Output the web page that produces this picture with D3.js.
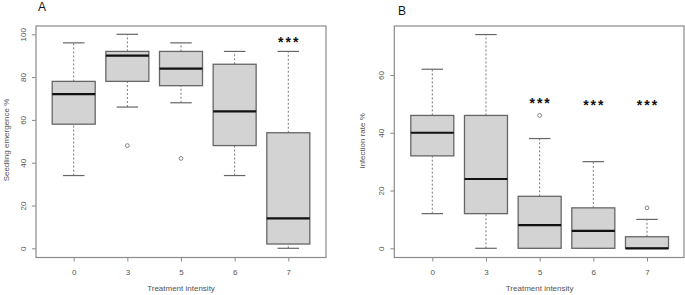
<!DOCTYPE html>
<html>
<head>
<meta charset="utf-8">
<script src="https://cdn.jsdelivr.net/npm/d3@7"></script>
<style>
  body { margin: 0; background: #fff; }
  svg { display: block; font-family: "Liberation Sans", Arial, sans-serif; }
</style>
</head>
<body>
<div id="chart"></div>
<script>
const categories = ["0", "3", "5", "6", "7"];

// [low whisker, Q1, median, Q3, high whisker]
const emergenceStats = [
  [34, 58, 72, 78, 96],
  [66, 78, 90, 92, 100],
  [68, 76, 84, 92, 96],
  [34, 48, 64, 86, 92],
  [0, 2, 14, 54, 92]
];
const emergenceOutliers = [[], [48], [42], [], []];
const emergenceStars = [false, false, false, false, true];
const emergenceStarValue = [0, 0, 0, 0, 97.7];
const emergenceTicks = [0, 20, 40, 60, 80, 100];

const infectionStats = [
  [12, 32, 40, 46, 62],
  [0, 12, 24, 46, 74],
  [0, 0, 8, 18, 38],
  [0, 0, 6, 14, 30],
  [0, 0, 0, 4, 10]
];
const infectionOutliers = [[], [], [46], [], [14]];
const infectionStars = [false, false, true, true, true];
const infectionStarValue = [0, 0, 51.3, 50.7, 50.5];
const infectionTicks = [0, 20, 40, 60];

const W = 685, H = 295;
const svg = d3.select("#chart").append("svg").attr("width", W).attr("height", H);

const drawPanel = (opt) => {
  const g = svg.append("g");
  const x = d3.scalePoint().domain(categories).range([opt.x0, opt.x1]);
  const y = d3.scaleLinear().domain(opt.domain).range([opt.yBottom, opt.yTop]);
  const boxW = 43, capW = 21.5;
  const frameColor = "#8a8a8a";

  // frame
  g.append("rect")
    .attr("x", opt.left).attr("y", opt.top)
    .attr("width", opt.right - opt.left).attr("height", opt.bottom - opt.top)
    .attr("fill", "none").attr("stroke", frameColor).attr("stroke-width", 1.2);

  // y axis
  const ya = g.append("g").attr("transform", `translate(${opt.left},0)`)
    .call(d3.axisLeft(y).tickValues(opt.ticks).tickSize(4).tickSizeOuter(0));
  ya.select(".domain").remove();
  ya.selectAll(".tick line").attr("stroke", frameColor);
  ya.selectAll(".tick text")
    .attr("fill", "#555").attr("font-size", 8)
    .attr("text-anchor", "middle")
    .attr("transform", "rotate(-90)")
    .attr("x", 0).attr("y", -13).attr("dy", "0.32em");

  // x axis
  const xa = g.append("g").attr("transform", `translate(0,${opt.bottom})`)
    .call(d3.axisBottom(x).tickSize(4).tickSizeOuter(0).tickPadding(8));
  xa.select(".domain").remove();
  xa.selectAll(".tick line").attr("stroke", frameColor);
  xa.selectAll(".tick text").attr("fill", "#555").attr("font-size", 8);

  // boxes
  const boxes = g.selectAll(".box").data(opt.stats).join("g")
    .attr("transform", (d, i) => `translate(${x(categories[i])},0)`);

  boxes.append("line")
    .attr("y1", d => y(d[0])).attr("y2", d => y(d[1]))
    .attr("stroke", "#777").attr("stroke-dasharray", "2,2");
  boxes.append("line")
    .attr("y1", d => y(d[3])).attr("y2", d => y(d[4]))
    .attr("stroke", "#777").attr("stroke-dasharray", "2,2");
  boxes.append("line")
    .attr("x1", -capW / 2).attr("x2", capW / 2)
    .attr("y1", d => y(d[0])).attr("y2", d => y(d[0]))
    .attr("stroke", "#666").attr("stroke-width", 1.2);
  boxes.append("line")
    .attr("x1", -capW / 2).attr("x2", capW / 2)
    .attr("y1", d => y(d[4])).attr("y2", d => y(d[4]))
    .attr("stroke", "#666").attr("stroke-width", 1.2);
  boxes.append("rect")
    .attr("x", -boxW / 2).attr("width", boxW)
    .attr("y", d => y(d[3])).attr("height", d => Math.max(0, y(d[1]) - y(d[3])))
    .attr("fill", "#d3d3d3").attr("stroke", "#666").attr("stroke-width", 1.3);
  boxes.append("line")
    .attr("x1", -boxW / 2).attr("x2", boxW / 2)
    .attr("y1", d => y(d[2])).attr("y2", d => y(d[2]))
    .attr("stroke", "#111").attr("stroke-width", 2.2);

  // outliers
  opt.outliers.forEach((arr, i) => {
    g.selectAll(null).data(arr).join("circle")
      .attr("cx", x(categories[i])).attr("cy", d => y(d))
      .attr("r", 1.9).attr("fill", "none").attr("stroke", "#666").attr("stroke-width", 0.8);
  });

  // significance stars (value = vertical centre of the asterisks)
  opt.stars.forEach((s, i) => {
    if (!s) return;
    g.append("text")
      .attr("x", x(categories[i]) + 1).attr("y", y(opt.starValue[i]))
      .attr("text-anchor", "middle").attr("dy", "0.55em")
      .attr("font-size", 14).attr("font-weight", "bold").attr("fill", "#111")
      .attr("letter-spacing", 2)
      .text("***");
  });

  // labels
  g.append("text")
    .attr("x", (opt.x0 + opt.x1) / 2).attr("y", 291)
    .attr("text-anchor", "middle").attr("font-size", 8).attr("fill", "#555")
    .text("Treatment intensity");
  g.append("text")
    .attr("transform", `translate(${opt.ylabX},${opt.ylabY}) rotate(-90)`)
    .attr("text-anchor", "middle").attr("dy", "0.32em")
    .attr("font-size", 8).attr("fill", "#555")
    .text(opt.ylabel);
  g.append("text")
    .attr("x", opt.letterX).attr("y", opt.letterY)
    .attr("font-size", 12).attr("fill", "#111")
    .text(opt.letter);
};

drawPanel({
  left: 36, right: 326, top: 26, bottom: 257.5,
  x0: 73.7, x1: 288.3,
  domain: [0, 100], yBottom: 248.3, yTop: 34.3,
  ticks: emergenceTicks, stats: emergenceStats, outliers: emergenceOutliers,
  stars: emergenceStars, starValue: emergenceStarValue,
  ylabel: "Seedling emergence %", ylabX: 6, ylabY: 140,
  letter: "A", letterX: 38, letterY: 11
});

drawPanel({
  left: 394.3, right: 684, top: 26, bottom: 257.5,
  x0: 432.3, x1: 647,
  domain: [0, 60], yBottom: 248.3, yTop: 75,
  ticks: infectionTicks, stats: infectionStats, outliers: infectionOutliers,
  stars: infectionStars, starValue: infectionStarValue,
  ylabel: "Infection rate %", ylabX: 362, ylabY: 141,
  letter: "B", letterX: 398, letterY: 15
});
</script>
</body>
</html>
